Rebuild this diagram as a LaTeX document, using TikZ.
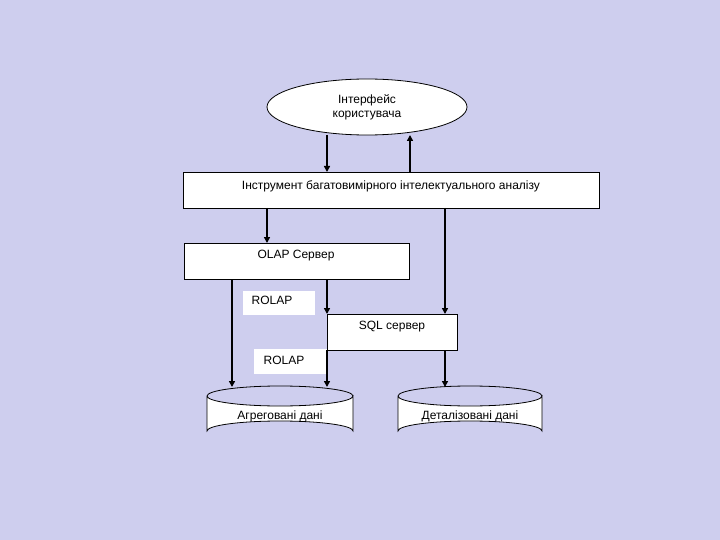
\documentclass[tikz,border=0pt]{standalone}
\usepackage{fontspec}
\setmainfont{Liberation Sans}
\usetikzlibrary{shapes.geometric,arrows.meta}
\definecolor{bg}{RGB}{206,206,238}
\begin{document}
\begin{tikzpicture}[x=1pt,y=-1pt,
  box/.style={draw=black,fill=white,line width=0.8pt},
  txt/.style={font=\fontsize{12}{14}\selectfont,align=center},
  arr/.style={line width=1.5pt,-{Triangle[length=6pt,width=6pt]}}]
\fill[bg] (0,0) rectangle (720,540);
\useasboundingbox (0,0) rectangle (720,540);
% user interface
\node[ellipse,draw,fill=white,line width=0.8pt,minimum width=200pt,minimum height=56pt,inner sep=0pt,txt] (ui) at (367,107) {Інтерфейс\\користувача};
% tool
\draw[box] (183,172) rectangle (599,208);
\node[txt] (tool) at (391,186) {Інструмент багатовимірного інтелектуального аналізу};
\coordinate (toolT1) at (327,172); \coordinate (toolT2) at (410,172);
\coordinate (toolB1) at (267,208); \coordinate (toolB2) at (445,208);
% olap
\draw[box] (184,243) rectangle (409,279);
\node[txt] (olap) at (296,256) {OLAP Сервер};
\coordinate (olapT) at (267,243);
\coordinate (olapB1) at (232,279); \coordinate (olapB2) at (327,279);
% sql
\draw[box] (327,314) rectangle (457,350);
\node[txt] (sql) at (392,327) {SQL сервер};
\coordinate (sqlT1) at (327,314); \coordinate (sqlT2) at (445,314);
\coordinate (sqlB1) at (327,350); \coordinate (sqlB2) at (445,350);
% labels
\fill[white] (243,291) rectangle (315,315);
\node[txt] (r1) at (272,300) {ROLAP};
\fill[white] (254,349) rectangle (327,374);
\node[txt] (r2) at (284,360) {ROLAP};
% cylinders
\foreach \n/\xa/\xb in {c1/207/353,c2/398/542}{
  \draw[box] (\xa,396) -- (\xa,431) arc[start angle=180,end angle=360,x radius={(\xb-\xa)/2},y radius=10] -- (\xb,396) arc[start angle=0,end angle=180,x radius={(\xb-\xa)/2},y radius=10];
  \draw[line width=0.8pt] (\xa,396) arc[start angle=180,end angle=360,x radius={(\xb-\xa)/2},y radius=10];
}
\node[txt] (agg) at (280,416) {Агреговані дані};
\node[txt] (det) at (470,416) {Деталізовані дані};
\coordinate (c1T1) at (232,387); \coordinate (c1T2) at (327,387);
\coordinate (c2T) at (445,387);
% arrows
\draw[arr] (327,135) -- (toolT1);
\draw[arr] (toolT2) -- (410,135);
\draw[arr] (toolB1) -- (olapT);
\draw[arr] (toolB2) -- (sqlT2);
\draw[arr] (olapB1) -- (c1T1);
\draw[arr] (olapB2) -- (sqlT1);
\draw[arr] (sqlB1) -- (c1T2);
\draw[arr] (sqlB2) -- (c2T);
\end{tikzpicture}
\end{document}
